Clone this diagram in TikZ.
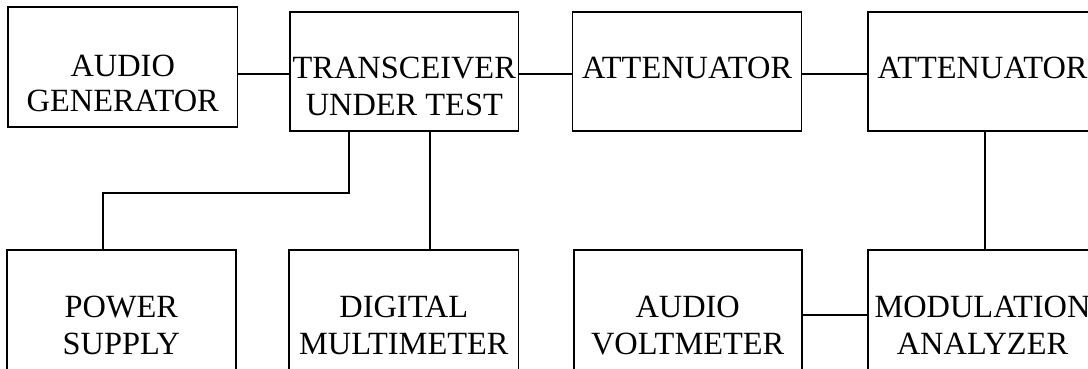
\documentclass[tikz,border=0pt]{standalone}
\usepackage{fontspec}
\setmainfont{Liberation Serif}
\usetikzlibrary{calc}
\begin{document}
\begin{tikzpicture}[x=1pt,y=-1pt,
  box/.style={draw,line width=1.6pt,minimum width=#1,minimum height=119pt,inner sep=0pt,outer sep=0pt,anchor=north west},
  lbl/.style={anchor=base,inner sep=0pt,font=\fontsize{32.4}{36}\selectfont},
  wire/.style={line width=1.6pt}]
\useasboundingbox (0,0) rectangle (1088,369);
\clip (0,0) rectangle (1088,369);
% boxes
\node[box=229.5pt,minimum height=120pt] (ag) at (8,7) {};
\node[box=228.6pt] (tr) at (290,12) {};
\node[box=229pt] (at1) at (572.6,12) {};
\node[box=229pt] (at2) at (868,12) {};
\node[box=228.7pt,minimum height=140pt] (ps) at (7,250) {};
\node[box=229.6pt,minimum height=140pt] (dm) at (289,250) {};
\node[box=228pt,minimum height=140pt] (av) at (573.7,250) {};
\node[box=229pt,minimum height=140pt] (ma) at (868,250) {};
% labels
\node[lbl] (ag1) at ($(ag.north)+(0,70)$) {AUDIO};
\node[lbl] (ag2) at ($(ag.north)+(0,105)$) {GENERATOR};
\node[lbl] (tr1) at ($(tr.north)+(0,67)$) {TRANSCEIVER};
\node[lbl] (tr2) at ($(tr.north)+(0,103)$) {UNDER TEST};
\node[lbl] (at1l) at ($(at1.north)+(0,66)$) {ATTENUATOR};
\node[lbl] (at2l) at ($(at2.north)+(0,66)$) {ATTENUATOR};
\node[lbl] (ps1) at ($(ps.north)+(0,67)$) {POWER};
\node[lbl] (ps2) at ($(ps.north)+(0,104)$) {SUPPLY};
\node[lbl] (dm1) at ($(dm.north)+(0,67)$) {DIGITAL};
\node[lbl] (dm2) at ($(dm.north)+(0,104)$) {MULTIMETER};
\node[lbl] (av1) at ($(av.north)+(0,67)$) {AUDIO};
\node[lbl] (av2) at ($(av.north)+(0,104)$) {VOLTMETER};
\node[lbl] (ma1) at ($(ma.north)+(0,67)$) {MODULATION};
\node[lbl] (ma2) at ($(ma.north)+(0,104)$) {ANALYZER};
% connectors
\draw[wire] ($(ag.north east)+(0,67)$) -- ($(tr.north west)+(0,62)$);
\draw[wire] ($(tr.north east)+(0,62)$) -- ($(at1.north west)+(0,62)$);
\draw[wire] ($(at1.north east)+(0,62)$) -- ($(at2.north west)+(0,62)$);
\draw[wire] ($(tr.south west)+(59,0)$) -- ++(0,61.7) -| ($(ps.north west)+(96,0)$);
\draw[wire] ($(tr.south west)+(140,0)$) coordinate (t) -- (t |- dm.north);
\draw[wire] ($(at2.south west)+(117,0)$) coordinate (u) -- (u |- ma.north);
\draw[wire] ($(av.north east)+(0,65)$) coordinate (v) -- (v -| ma.west);
\end{tikzpicture}
\end{document}
